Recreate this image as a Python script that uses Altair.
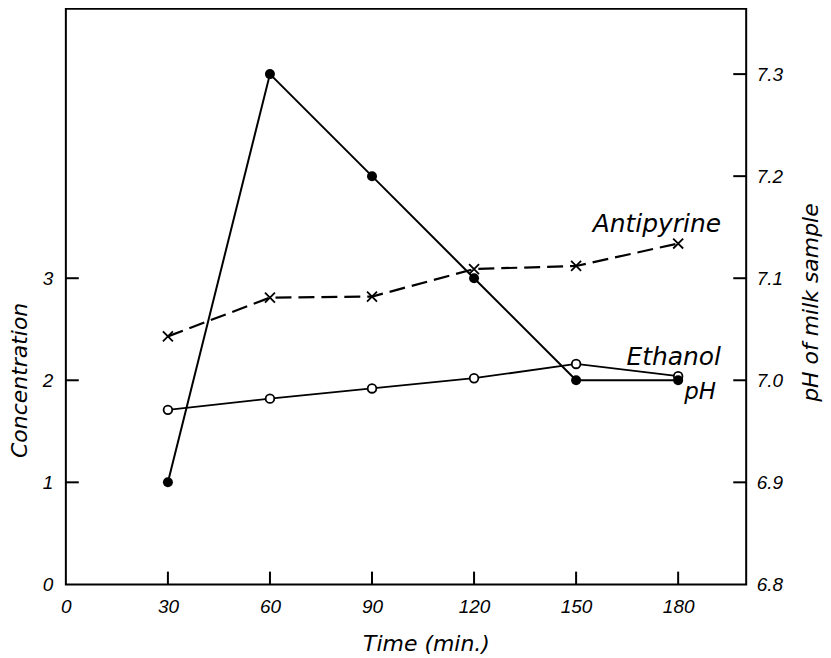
import altair as alt
import pandas as pd

# ---- data ----
times = [30, 60, 90, 120, 150, 180]
antipyrine = [2.43, 2.81, 2.82, 3.09, 3.12, 3.34]
ethanol = [1.71, 1.82, 1.92, 2.02, 2.16, 2.04]
ph = [6.90, 7.30, 7.20, 7.10, 7.00, 7.00]

x_ticks = [0, 30, 60, 90, 120, 150, 180]
conc_ticks = [0, 1, 2, 3]
ph_ticks = [6.8, 6.9, 7.0, 7.1, 7.2, 7.3]

W, H = 682, 577
X_MAX = 200
C_MAX = 5.64
PH_MIN, PH_MAX = 6.8, 6.8 + C_MAX / 10

# inward tick lengths expressed in each scale's units (about 13 px)
TICK_X = 3.8
TICK_C = 0.125
TICK_P = 0.0125

df_anti = pd.DataFrame({"time": times, "value": antipyrine})
df_eth = pd.DataFrame({"time": times, "value": ethanol})
df_ph = pd.DataFrame({"time": times, "pH": ph})

lab_font = "Liberation Sans"
tit_font = "DejaVu Sans"

axis_common = dict(
    domain=False, grid=False, ticks=False,
    labelFont=lab_font, labelFontStyle="italic", labelFontSize=19, labelColor="black",
    titleFont=tit_font, titleFontStyle="italic", titleFontWeight="normal",
    titleFontSize=22, titleColor="black", labelFlush=False, labelOverlap=False,
)

X = alt.X("time:Q", scale=alt.Scale(domain=[0, X_MAX], nice=False, zero=False),
          axis=alt.Axis(values=x_ticks, format="d", title="Time (min.)", labelPadding=13,
                        titlePadding=17, titleX=361, **axis_common))
YC = alt.Y("value:Q", scale=alt.Scale(domain=[0, C_MAX], nice=False, zero=False),
           axis=alt.Axis(values=conc_ticks, format="d", title="Concentration", labelPadding=13,
                         titleAngle=270, titleBaseline="middle", titleAlign="center",
                         titleX=-46, titleY=372, **axis_common))
YP = alt.Y("pH:Q", scale=alt.Scale(domain=[PH_MIN, PH_MAX], nice=False, zero=False),
           axis=alt.Axis(values=ph_ticks, format=".1f", orient="right",
                         title="pH of milk sample", titleAngle=270, titleBaseline="middle",
                         titleX=64, titleY=294, titleAlign="center",
                         labelPadding=10, **axis_common))

cross = "M-1,-1L1,1M1,-1L-1,1"

anti_line = alt.Chart(df_anti).mark_line(color="black", strokeWidth=2.2,
                                         strokeDash=[16, 7]).encode(x=X, y=YC)
anti_pts = alt.Chart(df_anti).mark_point(shape=cross, size=100, color="black",
                                         strokeWidth=1.8, filled=False, opacity=1).encode(x=X, y=YC)
eth_line = alt.Chart(df_eth).mark_line(color="black", strokeWidth=1.8).encode(x=X, y=YC)
eth_pts = alt.Chart(df_eth).mark_point(shape="circle", size=75, color="black", fill="white",
                                       filled=False, strokeWidth=1.8, opacity=1).encode(x=X, y=YC)

df_lbl_c = pd.DataFrame({
    "time": [times[-1], times[-1]],
    "value": [antipyrine[-1], ethanol[-1]],
    "label": ["Antipyrine", "Ethanol"],
})
anti_text = alt.Chart(df_lbl_c.iloc[[0]]).mark_text(
    font=tit_font, fontStyle="italic", fontSize=25, align="right", baseline="middle",
    dx=43, dy=-20, color="black").encode(x=X, y=YC, text="label:N")
eth_text = alt.Chart(df_lbl_c.iloc[[1]]).mark_text(
    font=tit_font, fontStyle="italic", fontSize=25, align="right", baseline="middle",
    dx=43, dy=-19, color="black").encode(x=X, y=YC, text="label:N")

left_ticks = alt.Chart(pd.DataFrame({"value": conc_ticks[1:]})).mark_rule(
    color="black", strokeWidth=2).encode(y=YC, x=alt.datum(0), x2=alt.datum(TICK_X))
bottom_ticks = alt.Chart(pd.DataFrame({"time": x_ticks[1:]})).mark_rule(
    color="black", strokeWidth=2).encode(x=X, y=alt.datum(0), y2=alt.datum(TICK_C))

conc_layer = alt.layer(anti_line, eth_line, anti_pts, eth_pts, anti_text, eth_text,
                       left_ticks, bottom_ticks)

ph_line = alt.Chart(df_ph).mark_line(color="black", strokeWidth=2).encode(x=X, y=YP)
ph_pts = alt.Chart(df_ph).mark_point(shape="circle", size=100, color="black", filled=True,
                                     opacity=1).encode(x=X, y=YP)
df_lbl_p = pd.DataFrame({"time": [times[-1]], "pH": [ph[-1]], "label": ["pH"]})
ph_text = alt.Chart(df_lbl_p).mark_text(
    font=tit_font, fontStyle="italic", fontSize=23, align="right", baseline="middle",
    dx=38, dy=12, color="black").encode(x=X, y=YP, text="label:N")
right_ticks = alt.Chart(pd.DataFrame({"pH": ph_ticks[1:]})).mark_rule(
    color="black", strokeWidth=2).encode(y=YP, x=alt.datum(X_MAX - TICK_X), x2=alt.datum(X_MAX))

ph_layer = alt.layer(ph_line, ph_pts, ph_text, right_ticks)

chart = alt.layer(conc_layer, ph_layer).resolve_scale(y="independent").properties(
    width=W, height=H,
    autosize=alt.AutoSizeParams(type="none"),
    padding={"left": 58, "top": 0, "right": 77, "bottom": 72},
    background="white",
).configure_view(stroke="black", strokeWidth=2)

chart.save("out.html", embed_options={"renderer": "svg", "actions": False})
